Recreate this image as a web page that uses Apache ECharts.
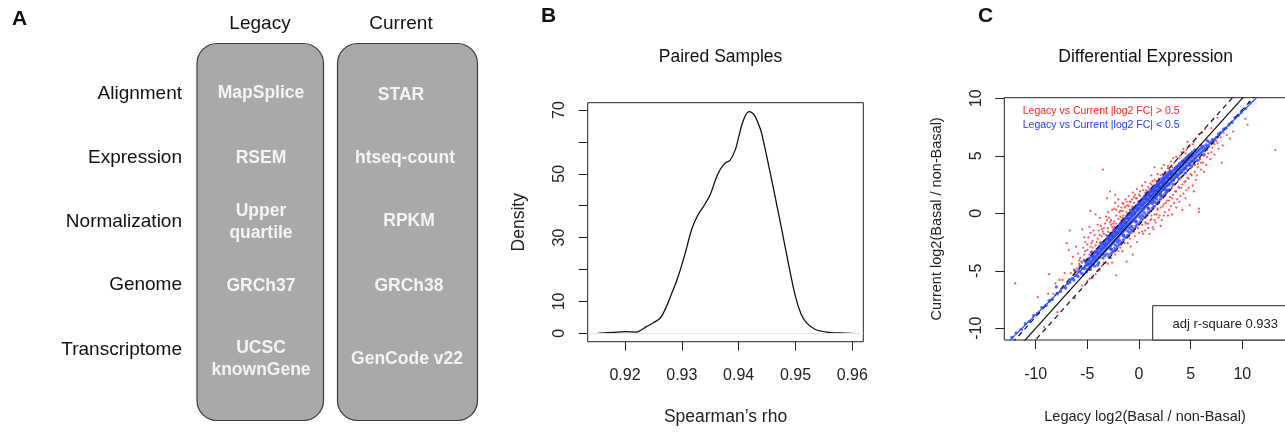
<!DOCTYPE html>
<html><head><meta charset="utf-8">
<script src="https://cdn.jsdelivr.net/npm/echarts@6/dist/echarts.min.js"></script>
<style>html,body{margin:0;padding:0;background:#fff}#c{width:1285px;height:432px}</style>
</head><body><div id="c"></div>
<script>
const FONT = '"Liberation Sans", Arial, Helvetica, sans-serif';

// ---------- Panel A: pipeline comparison ----------
const pipelineSteps = ['Alignment', 'Expression', 'Normalization', 'Genome', 'Transcriptome'];
const legacyTools = ['MapSplice', 'RSEM', 'Upper\nquartile', 'GRCh37', 'UCSC\nknownGene'];
const currentTools = ['STAR', 'htseq-count', 'RPKM', 'GRCh38', 'GenCode v22'];
const columnHeaders = ['Legacy', 'Current'];

// ---------- Panel B: density of Spearman's rho ----------
const rhoX = [0.9152,0.9180,0.9200,0.9220,0.9235,0.9250,0.9262,0.9272,0.9280,0.9292,0.9305,0.9317,0.9328,0.9338,0.9350,0.9360,0.9368,0.9376,0.9385,0.9394,0.9400,0.9405,0.9411,0.9415,0.9419,0.9423,0.9428,0.9434,0.9440,0.9452,0.9464,0.9476,0.9488,0.9500,0.9510,0.9520,0.9535,0.9555,0.9580,0.9600];
const densityY = [0.0,0.3,0.5,0.4,1.8,3.3,4.8,8.0,11.5,17.0,24.5,32.4,37.0,39.7,43.5,48.5,51.5,53.3,54.3,57.5,61.5,65.0,68.0,69.1,69.5,69.2,68.3,66.0,63.0,53.3,43.0,32.4,21.5,11.5,6.0,3.2,1.2,0.4,0.1,0.0];
const rhoTicks = [0.92, 0.93, 0.94, 0.95, 0.96];
const densityTicks = [0, 10, 20, 30, 40, 50, 60, 70];
const densityLabels = [0, 10, 30, 50, 70];

// ---------- Panel C: differential expression scatter ----------
const deTicks = [-10, -5, 0, 5, 10];
const redPoints = [
[-12.0,-6.1],[-9.8,-7.3],[-8.8,-7.0],[-8.7,-5.3],[-8.1,-6.1],[-7.7,-5.8],[-7.2,-5.2],[-7.0,-2.6],[-6.8,-3.2],[-6.7,-1.5],[-6.5,-4.4],[-6.3,-4.9],[-6.0,-4.8],[-5.9,-3.5],[-5.7,-3.9],[-5.6,-4.2],[-5.5,-1.4],[-5.4,-3.0],[-5.3,-3.6],[-5.2,-2.5],[-5.1,-4.0],[-5.0,-3.2],[-4.9,-2.1],[-4.8,-3.6],[-4.7,-1.7],[-4.7,-2.9],[-4.7,0.2],[-4.6,-3.3],[-4.5,-2.4],[-4.4,-3.7],[-4.3,-1.9],[-4.2,-2.8],[-4.2,-0.1],[-4.1,-3.1],[-4.0,-2.2],[-3.9,-1.5],[-3.9,-3.4],[-3.8,-2.6],[-3.7,-1.1],[-3.6,-2.0],[-3.6,-3.0],[-3.5,3.8],[-3.5,-1.6],[-3.4,-2.4],[-3.3,-0.9],[-3.3,-2.8],[-3.2,-1.9],[-3.1,-0.6],[-3.1,1.3],[-3.1,-2.2],[-3.0,-1.3],[-2.9,-2.5],[-2.9,-0.4],[-2.8,1.9],[-2.8,-1.7],[-2.7,-1.0],[-2.6,-2.0],[-2.6,0.3],[-2.5,-1.4],[-2.4,-0.7],[-2.3,1.6],[-2.3,-1.8],[-2.3,0.9],[-2.2,-0.2],[-2.1,-1.2],[-2.0,-0.5],[-2.0,0.6],[-1.9,-1.0],[-1.8,0.2],[-1.7,-0.6],[-1.6,0.9],[-1.5,-0.2],[-1.4,0.5],[-1.3,1.2],[-1.2,0.1],[-1.1,0.7],[-1.0,1.5],[-0.9,0.3],[-0.8,1.0],[-0.7,0.5],[-0.6,1.8],[-0.5,0.9],[-0.3,1.3],[-0.2,2.1],[-0.1,0.8],[0.0,1.6],[0.2,1.1],[0.3,2.4],[0.5,1.5],[0.7,2.0],[0.9,1.7],[1.1,2.6],[1.2,3.3],[1.4,2.2],[1.5,4.0],[1.7,2.8],[2.0,2.6],[2.3,3.4],[2.6,3.1],[2.8,4.1],[3.0,3.7],[3.4,4.4],[3.7,4.1],[4.0,5.0],[4.3,5.6],[4.5,5.2],[4.9,5.9],[5.3,6.2],[5.8,6.9],[6.4,7.3],[7.0,7.4],[7.6,8.3],
[-9.2,-9.9],[-7.9,-8.6],[-6.2,-7.4],[-5.0,-5.9],[-4.5,-5.6],[-3.8,-4.9],[-3.2,-4.3],[-3.0,-4.4],[-2.7,-3.9],[-2.2,-5.4],[-2.0,-3.3],[-1.8,-3.0],[-1.4,-2.6],[-1.2,-4.2],[-0.9,-2.2],[-0.6,-3.6],[-0.5,-1.6],[-0.2,-2.5],[-0.1,-1.3],
[0.3,-1.0],[0.5,-0.4],[0.6,-1.5],[0.8,-0.2],[0.9,-0.9],[1.0,-1.8],[1.1,0.2],[1.2,-0.5],[1.3,-1.2],[1.4,0.6],[1.5,-0.1],[1.6,-0.8],[1.7,0.9],[1.8,0.3],[1.9,-0.4],[2.0,1.2],[2.1,0.5],[2.2,-0.6],[2.3,1.5],[2.4,0.8],[2.5,0.1],[2.6,1.8],[2.7,1.1],[2.8,-0.2],[2.9,2.0],[3.0,1.4],[3.1,0.6],[3.2,2.3],[3.3,1.6],[3.4,0.9],[3.5,2.6],[3.6,1.9],[3.7,1.2],[3.8,2.9],[3.9,2.2],[4.0,1.5],[4.1,3.2],[4.2,2.5],[4.3,1.7],[4.4,3.5],[4.5,2.8],[4.6,2.0],[4.7,3.7],[4.8,3.0],[4.9,0.7],[5.0,3.9],[5.1,3.3],[5.2,2.4],[5.3,4.3],[5.4,3.6],[5.5,2.9],[5.6,4.6],[5.7,4.0],[5.8,0.4],[5.8,0.1],[5.9,4.8],[6.0,3.8],[6.1,5.1],[6.2,4.4],[6.4,5.4],[6.6,4.9],[6.8,5.8],[7.0,5.3],[7.2,6.1],[7.5,6.3],[7.9,6.6],[8.0,4.4],[8.5,6.8],[10.3,8.2],[10.5,7.7],[13.2,5.5],
[-6.0,-5.1],[-5.5,-4.3],[-4.9,-3.9],[-4.3,-3.3],[-3.7,-2.5],[-2.4,-1.2],[-1.6,-0.4],[-0.8,0.3],[0.0,1.0],[0.8,1.9],[1.6,2.5],[2.4,3.3],[3.2,4.0],[3.9,4.8],[4.6,5.5],[5.2,6.0],
[-4.0,-5.0],[-3.4,-4.3],[-2.5,-3.4],[-1.6,-2.5],[-0.7,-1.7],[0.1,-0.9],[1.0,0.0],[1.9,0.9],[2.7,1.8],[3.5,2.5],[4.3,3.3],[5.1,4.0],[5.9,4.7],[6.6,5.5],[7.3,6.0],[8.2,7.0],
[-6.4,-3.8],[-6.1,-2.9],[-5.8,-4.4],[-5.3,-2.1],[-5.0,-2.7],[-4.8,-1.2],[-4.5,-3.0],[-4.4,-1.5],[-4.0,-1.0],[-3.8,-0.4],[-3.6,-1.4],[-3.4,-1.8],[-3.2,-0.3],[-3.0,0.1],[-2.8,-0.8],[-2.6,-1.2],[-2.4,0.4],[-2.2,-0.9],[-2.0,1.2],[-1.8,-0.3],[-1.6,0.2],[-1.3,0.6],[-1.1,-0.1],[-0.9,1.0],[-0.6,0.6],[-0.4,1.6],[0.1,1.9],[0.4,1.3],[0.6,2.7],[1.0,2.1],[1.3,2.8],[1.9,3.0],[2.2,3.9],[2.5,3.6],[3.1,4.5],[3.6,4.9],[4.1,5.3],[4.7,6.2],[5.5,6.5],[6.1,7.0],
[-5.5,-6.3],[-4.8,-5.7],[-4.2,-5.3],[-3.6,-4.6],[-2.9,-3.6],[-2.4,-3.0],[-1.9,-2.8],[-1.0,-1.9],[-0.3,-1.2],[0.2,-0.5],[0.4,-1.8],[0.7,-0.9],[1.1,-0.6],[1.4,-1.4],[1.7,-0.1],[2.1,-1.1],[2.4,-0.2],[2.9,0.3],[3.2,-0.1],[3.6,0.5],[3.9,1.0],[4.2,0.3],[4.5,1.3],[4.8,2.2],[5.3,1.9],[5.6,3.3],[6.3,3.6],[6.5,4.2],[6.9,4.7],[7.3,5.1],[7.7,5.6],[8.1,5.9],[8.8,6.5],[9.1,7.1],
[-3.0,-1.6],[-2.7,-0.6],[-2.5,-0.9],[-2.2,0.3],[-1.9,0.1],[-1.7,0.5],[-1.5,0.8],[-1.2,1.0],[-1.0,0.6],[-0.7,1.2],[-0.5,1.4],[-0.2,1.3],[0.1,1.5],[0.4,2.0],[0.6,1.8],[0.9,2.3],[1.2,2.5],[1.5,2.9],[1.8,3.4],[2.1,3.3],[2.4,4.2],[2.8,3.9],[3.3,4.8],[-5.8,-4.1],[-5.2,-3.3],[-4.6,-2.6],[-4.1,-2.5],[-3.8,-1.9],[-3.4,-1.3],[-6.6,-5.2],[-7.4,-5.8],[-8.3,-7.0],
[-2.6,-4.3],[-2.3,-3.6],[-1.6,-3.3],[-1.1,-2.6],[-0.8,-2.9],[-0.4,-2.0],[0.0,-1.7],[0.3,-1.6],[0.6,-0.8],[0.9,-1.3],[1.2,-0.2],[1.5,-0.6],[1.8,0.4],[2.0,-0.2],[2.3,0.6],[2.6,0.9],[2.9,1.1],[3.2,1.3],[3.5,1.9],[3.8,2.3],[4.1,2.2],[4.4,2.7],[4.7,3.1],[5.0,3.4],[5.4,4.2],[5.7,4.3],[6.0,4.4],[6.3,5.0],[6.7,5.2],[7.1,5.7],[7.6,6.1]
];
const bluePoints = [
[-12.3,-10.8],[-11.9,-10.4],[-11.4,-10.1],[-11.0,-9.6],[-10.6,-9.4],[-10.2,-8.9],[-9.8,-8.7],[-9.4,-8.2],[-9.0,-8.0],[-8.7,-7.6],[-8.4,-7.5],[-8.0,-6.4],[-7.9,-7.0],[-7.6,-6.8],[-7.3,-6.4],[-7.1,-6.5],[-6.9,-6.1],[-6.7,-6.0],[-6.5,-5.7],[-6.3,-5.8],[-6.1,-5.4],[-5.9,-5.5],[-5.8,-5.0],[-5.6,-5.2],[-5.5,-4.8],[-5.4,-5.3],[-5.2,-4.6],[-5.1,-5.1],
[-5.0,-4.9],[-4.95,-4.5],[-5.05,-4.2],[-4.85,-4.8],[-4.8,-4.4],[-4.9,-4.05],[-4.7,-4.65],[-4.65,-4.25],[-4.75,-3.9],[-4.55,-4.45],[-4.5,-4.1],[-4.6,-3.75],[-4.4,-4.4],[-4.35,-3.95],[-4.45,-3.6],[-4.25,-4.2],[-4.2,-3.8],[-4.3,-3.45],[-4.1,-4.05],[-4.05,-3.65],[-4.15,-3.3],[-3.95,-3.9],[-3.9,-3.5],[-4.0,-3.15],
[-3.8,-3.8],[-3.75,-3.35],[-3.85,-3.0],[-3.7,-3.1],[-3.65,-3.6],[-3.6,-3.2],[-3.7,-2.85],[-3.5,-3.5],[-3.45,-3.05],[-3.55,-2.7],[-3.4,-2.9],[-3.35,-3.35],[-3.3,-2.9],[-3.4,-2.55],[-3.2,-3.2],[-3.15,-2.75],[-3.25,-2.4],[-3.1,-2.6],[-3.05,-3.05],[-3.0,-2.6],[-3.1,-2.25],
[-2.9,-2.95],[-2.85,-2.45],[-2.95,-2.1],[-2.8,-2.3],[-2.75,-2.8],[-2.7,-2.3],[-2.8,-1.95],[-2.6,-2.65],[-2.55,-2.15],[-2.65,-1.8],[-2.5,-2.0],[-2.45,-2.5],[-2.4,-2.0],[-2.5,-1.65],[-2.3,-2.35],[-2.25,-1.85],[-2.35,-1.5],[-2.2,-1.7],[-2.15,-2.2],[-2.1,-1.7],[-2.2,-1.35],
[-2.0,-2.05],[-1.95,-1.55],[-2.05,-1.2],[-1.9,-1.4],[-1.85,-1.9],[-1.8,-1.4],[-1.9,-1.05],[-1.7,-1.75],[-1.65,-1.25],[-1.75,-0.9],[-1.6,-1.1],[-1.55,-1.6],[-1.5,-1.1],[-1.6,-0.75],[-1.4,-1.45],[-1.35,-0.95],[-1.45,-0.6],[-1.3,-0.8],[-1.25,-1.3],[-1.2,-0.8],[-1.3,-0.45],
[-1.1,-1.15],[-1.05,-0.65],[-1.15,-0.3],[-1.0,-0.5],[-0.95,-1.0],[-0.9,-0.5],[-1.0,-0.15],[-0.8,-0.85],[-0.75,-0.35],[-0.85,0.0],[-0.7,-0.2],[-0.65,-0.7],[-0.6,-0.2],[-0.7,0.15],[-0.5,-0.55],[-0.45,-0.05],[-0.55,0.3],[-0.4,0.1],[-0.35,-0.4],[-0.3,0.1],[-0.4,0.45],
[-0.2,-0.25],[-0.15,0.25],[-0.25,0.6],[-0.1,0.4],[-0.05,-0.1],[0.0,0.4],[-0.1,0.7],[0.1,0.05],[0.15,0.5],[0.05,0.85],[0.2,0.7],[0.25,0.2],[0.3,0.65],[0.2,1.0],[0.4,0.35],[0.45,0.8],[0.35,1.1],[0.5,0.9],[0.55,0.5],[0.6,0.95],[0.5,1.25],
[0.7,0.6],[0.75,1.1],[0.65,1.4],[0.8,1.2],[0.85,0.75],[0.9,1.2],[0.8,1.5],[1.0,0.9],[1.05,1.35],[0.95,1.65],[1.1,1.45],[1.15,1.0],[1.2,1.5],[1.1,1.8],[1.3,1.15],[1.35,1.6],[1.25,1.9],[1.4,1.7],[1.45,1.3],[1.5,1.75],[1.4,2.05],
[1.6,1.4],[1.65,1.9],[1.55,2.2],[1.7,2.0],[1.75,1.55],[1.8,2.0],[1.7,2.3],[1.9,1.7],[1.95,2.15],[1.85,2.45],[2.0,2.25],[2.05,1.8],[2.1,2.3],[2.0,2.6],[2.2,1.95],[2.25,2.4],[2.15,2.7],[2.3,2.5],[2.35,2.1],[2.4,2.55],[2.3,2.85],
[2.5,2.2],[2.55,2.7],[2.45,3.0],[2.6,2.75],[2.65,2.35],[2.7,2.8],[2.6,3.1],[2.8,2.5],[2.85,2.95],[2.75,3.25],[2.9,3.0],[2.95,2.6],[3.0,3.05],[2.9,3.35],[3.1,2.75],[3.15,3.2],[3.05,3.5],[3.2,3.25],[3.25,2.9],[3.3,3.35],[3.2,3.6],
[3.4,3.0],[3.45,3.45],[3.35,3.75],[3.5,3.5],[3.55,3.15],[3.6,3.6],[3.5,3.9],[3.7,3.3],[3.75,3.75],[3.65,4.0],[3.85,3.4],[3.9,3.85],[3.8,4.15],[4.0,3.55],[4.05,4.0],[3.95,4.3],[4.15,3.7],[4.2,4.1],[4.1,4.4],[4.3,3.8],[4.35,4.25],[4.25,4.55],
[4.45,3.95],[4.5,4.4],[4.4,4.65],[4.6,4.1],[4.65,4.5],[4.55,4.8],[4.75,4.2],[4.8,4.65],[4.7,4.9],[4.9,4.35],[4.95,4.8],[4.85,5.05],[5.05,4.5],[5.1,4.9],[5.0,5.15],[5.2,4.6],[5.25,5.05],[5.15,5.3],[5.35,4.75],[5.4,5.15],[5.5,4.85],[5.55,5.3],
[5.65,5.0],[5.7,5.4],[5.8,5.1],[5.85,5.55],[6.0,5.25],[6.05,5.65],[6.2,5.4],[6.25,5.8],[6.4,5.6],[6.5,5.95],[6.7,5.8],[6.8,6.2],[7.0,6.1],[7.1,6.4],[7.3,6.4],[7.5,6.6],[7.7,6.9],[7.9,7.0],[8.2,7.3],[8.4,7.4],[8.7,7.7],[9.0,7.9],[9.3,8.3],[9.6,8.5],[9.9,8.8],[10.3,9.1],[10.7,9.6],
[-4.0,-4.5],[-3.6,-2.6],[-3.3,-3.7],[-3.0,-2.0],[-2.7,-3.1],[-2.4,-1.5],[-2.1,-2.5],[-1.8,-0.9],[-1.5,-1.9],[-1.2,-0.3],[-0.9,-1.3],[-0.6,0.3],[-0.3,-0.7],[0.0,0.9],[0.3,-0.2],[0.6,1.5],[0.9,0.4],[1.2,2.0],[1.5,1.0],[1.8,2.5],[2.1,1.5],[2.4,3.0],[2.7,2.0],[3.0,3.5],[3.3,2.5],[3.6,4.0],[3.9,3.0],[4.2,4.5],[4.5,3.5],[4.8,5.0],[5.1,4.1],[5.4,5.5],[5.7,4.6],[6.0,5.9],[6.3,5.1],[6.6,6.3],[-4.6,-3.4],[-5.3,-4.1],[-5.7,-4.6],[-6.2,-5.0],
[-3.0,-2.15],[-2.9,-3.8],[-2.8,-2.0],[-2.7,-3.5],[-2.6,-1.8],[-2.5,-3.3],[-2.4,-1.6],[-2.3,-3.1],[-2.2,-1.3],[-2.1,-2.9],[-2.0,-1.2],[-1.9,-2.7],[-1.8,-0.95],[-1.7,-2.55],[-1.6,-0.8],[-1.5,-2.3],[-1.4,-0.5],[-1.3,-2.1],[-1.2,-0.4],[-1.1,-1.95],[-1.0,-0.1],[-0.9,-1.7],[-0.8,0.05],[-0.7,-1.5],[-0.6,0.3],[-0.5,-1.35],[-0.4,0.45],[-0.3,-1.1],[-0.2,0.7],[-0.1,-0.95],[0.0,1.0],[0.1,-0.75],[0.2,1.1],[0.3,-0.55],[0.4,1.3],[0.5,-0.35],[0.6,1.45],[0.7,-0.15],[0.8,1.7],[0.9,0.05],[1.0,1.85],[1.1,0.2],[1.2,2.05],[1.3,0.45],[1.4,2.25],[1.5,0.6],[1.6,2.4],[1.7,0.85],[1.8,2.6],[1.9,1.0],[2.0,2.8],[2.1,1.25],[2.2,3.0],[2.3,1.45],[2.4,3.15],[2.5,1.65],[2.6,3.35],[2.7,1.85],[2.8,3.5],[2.9,2.05],[3.0,3.7],
[-3.5,-3.9],[-3.3,-2.7],[-3.1,-3.55],[-2.9,-2.35],[-2.7,-3.15],[-2.5,-2.05],[-2.3,-2.75],[-2.1,-1.65],[-1.9,-2.35],[-1.7,-1.25],[-1.5,-1.95],[-1.3,-0.85],[-1.1,-1.55],[-0.9,-0.45],[-0.7,-1.15],[-0.5,-0.05],[-0.3,-0.75],[-0.1,0.35],[0.1,-0.35],[0.3,0.75],[0.5,0.05],[0.7,1.15],[0.9,0.45],[1.1,1.55],[1.3,0.85],[1.5,1.95],[1.7,1.25],[1.9,2.35],[2.1,1.65],[2.3,2.75],[2.5,2.05],[2.7,3.15],[2.9,2.45],[3.1,3.5],[3.3,2.85],[3.5,3.85],[3.7,3.2],[3.9,4.2],[4.1,3.55],[4.3,4.5],[4.5,3.9],[4.7,4.75],[4.9,4.2],[5.1,5.0],[5.3,4.5],[-3.9,-4.3],[-4.1,-3.4],[-4.3,-4.6],[-4.5,-3.7],[-4.7,-4.9],[-4.9,-4.0],[-5.1,-4.4],[-5.3,-4.8]
];
// reference lines: identity, +/-1 fold bands, and fitted regression (y = slope * x)
const refSpanX = [-14, 15];
const bandOffsets = [1, -1];
const fitSlope = 0.883;
const adjRSquare = '0.933';

// ---------- layout ----------
const gridB = { left: 587.7, top: 102.7, width: 275.6, height: 239 };
const gridC = { left: 1004.3, top: 97.7, width: 281.4, height: 242.3 };

const txt = (text, x, y, size, opts = {}) => ({
  type: 'text', x, y, silent: true, z: 100,
  style: Object.assign({
    text, fill: '#111', align: 'center', verticalAlign: 'middle',
    font: `${opts.weight || 'normal'} ${size}px ${FONT}`
  }, opts.style || {})
});

const graphics = [];
graphics.push(txt('A', 12, 19, 21, { weight: 'bold', style: { align: 'left' } }));
graphics.push(txt('B', 541, 16, 21, { weight: 'bold', style: { align: 'left' } }));
graphics.push(txt('C', 978, 16, 21, { weight: 'bold', style: { align: 'left' } }));

const colBoxes = [{ x: 197, w: 126.5, cx: 260 }, { x: 337.5, w: 140, cx: 401 }];
colBoxes.forEach((b, i) => {
  graphics.push({ type: 'rect', z: 50, shape: { x: b.x, y: 43.5, width: b.w, height: 377, r: 20 },
    style: { fill: '#a9a9a9', stroke: '#3a3a3a', lineWidth: 1.2 } });
  graphics.push(txt(columnHeaders[i], b.cx, 23.5, 19));
});
const rowLabelY = [94, 158, 222, 285, 350];
const legacyY = [93, 158, 222.5, 286, 359.5];
const currentY = [95, 158, 221, 286, 359];
const currentX = [401, 405, 409, 409, 407];
pipelineSteps.forEach((s, i) => {
  graphics.push(txt(s, 182, rowLabelY[i], 19, { style: { align: 'right' } }));
  graphics.push(txt(legacyTools[i], 261, legacyY[i], 17.5, { weight: 'bold', style: { fill: '#f4f4f4', lineHeight: 22 } }));
  graphics.push(txt(currentTools[i], currentX[i], currentY[i], 17.5, { weight: 'bold', style: { fill: '#f4f4f4', lineHeight: 22 } }));
});

graphics.push(txt('Paired Samples', 720.5, 57, 17.5));
graphics.push(txt('Differential Expression', 1145.7, 57, 17.5));
graphics.push(txt('Legacy vs Current |log2 FC| > 0.5', 1022.7, 111, 10.5, { style: { align: 'left', fill: '#ff2020' } }));
graphics.push(txt('Legacy vs Current |log2 FC| < 0.5', 1022.7, 125, 10.5, { style: { align: 'left', fill: '#2040ff' } }));
graphics.push({ type: 'rect', z: 90, shape: { x: 1152.7, y: 305.7, width: 140, height: 34.3 },
  style: { fill: '#fff', stroke: '#222', lineWidth: 1 } });
graphics.push(txt('adj r-square ' + adjRSquare, 1278, 324, 13, { style: { align: 'right', fill: '#222' } }));

const axisCommon = (ticks, labels, labelMargin, fontSize, rotate) => ({
  type: 'value',
  axisLine: { show: false, onZero: false },
  splitLine: { show: false },
  axisTick: { show: true, inside: false, length: 9, customValues: ticks, lineStyle: { color: '#222', width: 1 } },
  axisLabel: { show: true, customValues: labels, margin: labelMargin, rotate: rotate || 0,
    fontSize, color: '#222', fontFamily: FONT },
  nameLocation: 'middle'
});

const xB = Object.assign(axisCommon(rhoTicks, rhoTicks, 26, 16), {
  gridIndex: 0, min: 0.91343, max: 0.96194, name: 'Spearman’s rho', nameGap: 66,
  nameTextStyle: { color: '#222', fontFamily: FONT, fontSize: 17.5 } });
xB.axisLabel.formatter = v => v.toFixed(2);
const yB = Object.assign(axisCommon(densityTicks, densityLabels, 20, 16, 90), {
  gridIndex: 0, min: -2.63, max: 72.29, name: 'Density', nameGap: 60,
  nameTextStyle: { color: '#222', fontFamily: FONT, fontSize: 17.5 } });
const xC = Object.assign(axisCommon(deTicks, deTicks, 27, 16), {
  gridIndex: 1, min: -13.04, max: 14.2, name: 'Legacy log2(Basal / non-Basal)', nameGap: 69,
  nameTextStyle: { color: '#222', fontFamily: FONT, fontSize: 14.5 } });
const yC = Object.assign(axisCommon(deTicks, deTicks, 20, 16, 90), {
  gridIndex: 1, min: -11.02, max: 10.05, name: 'Current log2(Basal / non-Basal)', nameGap: 60,
  nameTextStyle: { color: '#222', fontFamily: FONT, fontSize: 14.5 } });

const linePts = (slope, offset) => refSpanX.map(x => [x, slope * x + offset]);
const refLine = (data, color, type) => ({
  type: 'line', xAxisIndex: 1, yAxisIndex: 1, data, symbol: 'none', clip: true, silent: true,
  lineStyle: { color, width: 1.2, type }, z: 5
});

const chart = echarts.init(document.getElementById('c'), null, { renderer: 'canvas' });
chart.setOption({
  animation: false,
  backgroundColor: '#fff',
  textStyle: { fontFamily: FONT },
  grid: [
    Object.assign({ show: true, borderColor: '#222', borderWidth: 1, backgroundColor: 'transparent', containLabel: false, outerBoundsMode: 'none' }, gridB),
    Object.assign({ show: true, borderColor: '#222', borderWidth: 1, backgroundColor: 'transparent', containLabel: false, outerBoundsMode: 'none' }, gridC)
  ],
  xAxis: [xB, xC],
  yAxis: [yB, yC],
  series: [
    {
      type: 'line', xAxisIndex: 0, yAxisIndex: 0, smooth: 0.3, symbol: 'none',
      data: rhoX.map((x, i) => [x, densityY[i]]),
      lineStyle: { color: '#111', width: 1.3 },
      markLine: { silent: true, symbol: 'none', label: { show: false },
        lineStyle: { color: '#e4e4e4', width: 1, type: 'solid' }, data: [{ yAxis: 0 }] },
      z: 3
    },
    { type: 'scatter', xAxisIndex: 1, yAxisIndex: 1, data: redPoints, symbolSize: 2.2,
      itemStyle: { color: '#ff2a2a' }, silent: true, z: 2 },
    { type: 'scatter', xAxisIndex: 1, yAxisIndex: 1, data: bluePoints, symbolSize: 3.4,
      itemStyle: { color: '#2a45ff' }, silent: true, z: 3 },
    refLine(linePts(1, 0), '#111', 'solid'),
    refLine(linePts(1, bandOffsets[0]), '#111', [5, 4]),
    refLine(linePts(1, bandOffsets[1]), '#111', [5, 4]),
    refLine(linePts(fitSlope, 0), '#2255ff', 'solid')
  ],
  graphic: graphics
});
</script></body></html>
